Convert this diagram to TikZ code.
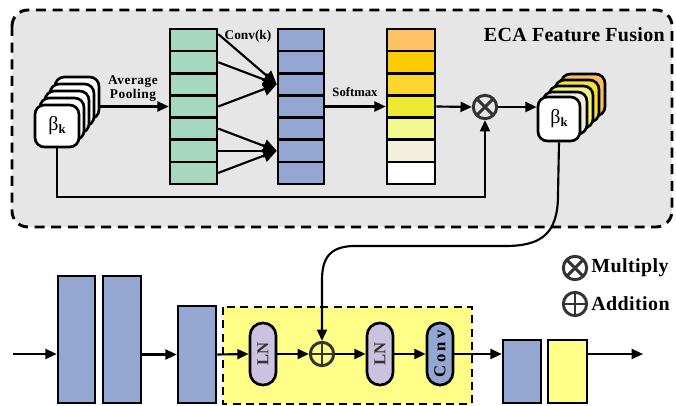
\documentclass[tikz,border=0pt]{standalone}
\usepackage{fontspec}
\setmainfont{Liberation Serif}
\usetikzlibrary{arrows.meta,calc}
\definecolor{panel}{HTML}{E6E6E6}
\definecolor{gcell}{HTML}{A6D7C1}
\definecolor{bcell}{HTML}{94A6D2}
\definecolor{lav}{HTML}{CAC2DE}
\definecolor{ylw}{HTML}{FFFF88}
\definecolor{opc}{HTML}{333333}
\definecolor{oc1}{HTML}{FDC263}
\definecolor{oc2}{HTML}{FBCB05}
\definecolor{oc3}{HTML}{FCD62F}
\definecolor{oc4}{HTML}{EEEA30}
\definecolor{oc5}{HTML}{F2F890}
\definecolor{oc6}{HTML}{F3EFDD}
\definecolor{oc7}{HTML}{FFFFFF}
\definecolor{rc4}{HTML}{F9BE5E}
\definecolor{rc3}{HTML}{F5E232}
\definecolor{rc2}{HTML}{F2F57A}
\definecolor{rc1}{HTML}{F2EDD8}
\begin{document}
\begin{tikzpicture}[x=0.75pt,y=-0.75pt,font=\bfseries,
  arr/.style={line width=1.6pt,-{Triangle[length=8.5pt,width=7.5pt]}},
  bigarr/.style={line width=1.6pt,-{Triangle[length=10pt,width=10pt]}},
  cell/.style={draw,line width=1.9pt,inner sep=0,minimum height=16.6pt},
  bbox/.style={draw,line width=2pt,rounded corners=7pt,fill=white,inner sep=0,minimum width=33pt,minimum height=31.5pt},
  col/.style={draw,line width=1.9pt,inner sep=0},
  pill/.style={draw,line width=2pt,rounded corners=9.5pt,inner sep=0,minimum width=19.5pt,minimum height=46.5pt},
  opcirc/.style={circle,draw=opc,line width=2.2pt,inner sep=0,minimum size=17.5pt},
  mulsym/.style={opcirc,path picture={\draw[opc,line width=2.2pt] (path picture bounding box.north west) -- (path picture bounding box.south east) (path picture bounding box.north east) -- (path picture bounding box.south west);}},
  addsym/.style={opcirc,path picture={\draw[opc,line width=2.2pt] (path picture bounding box.north) -- (path picture bounding box.south) (path picture bounding box.east) -- (path picture bounding box.west);}},
  lbl/.style={font=\bfseries\fontsize{10}{10.5}\selectfont\addfontfeature{LetterSpace=4},align=center,inner sep=0},
]
\useasboundingbox (0,0) rectangle (676,406);
% panel
\draw[fill=panel,line width=2.2pt,dash pattern=on 7.5pt off 5pt,rounded corners=12pt] (12,10) rectangle (672,227);
\node[anchor=east,inner sep=0,font=\bfseries\fontsize{15}{15}\selectfont\addfontfeature{LetterSpace=1.5}] (title) at (665,35) {ECA Feature Fusion};
% columns
\foreach \i in {1,...,7} {
  \node[cell,fill=gcell,minimum width=35.25pt] (g\i) at (193.5,{29+22.14*(\i-0.5)}) {};
  \node[cell,fill=bcell,minimum width=34.5pt] (b\i) at (301,{29+22.14*(\i-0.5)}) {};
  \node[cell,fill=oc\i,minimum width=36pt] (o\i) at (411,{29+22.14*(\i-0.5)}) {};
}
% left stack
\foreach \i in {4,3,2,1} \node[bbox] (bL\i) at ({57+5*\i},{126-7*\i}) {};
\node[bbox] (bL) at (57,126) {{\mdseries\fontsize{15}{15}\selectfont β}{\fontsize{9.5}{9.5}\selectfont\raisebox{-2pt}{k}}};
% right stack
\foreach \i/\c in {4/rc4,3/rc3,2/rc2,1/rc1} \node[bbox,fill=\c] (bR\i) at ({559+6*\i},{119-6*\i}) {};
\node[bbox,minimum width=31.5pt,minimum height=33pt] (bR) at (559,119) {{\mdseries\fontsize{15}{15}\selectfont β}{\fontsize{9.5}{9.5}\selectfont\raisebox{-2pt}{k}}};
% multiply
\node[mulsym] (mul) at (485,107) {};
% arrows top
\draw[arr] (bL4.east |- g4.west) -- (g4.west);
\node[lbl] (avgp) at (133,89) {Average\\Pooling};
\draw[bigarr] ($(g1.east)+(0,-6)$) -- (b3.west);
\draw[bigarr] (g2.east) -- (b3.west);
\draw[bigarr] (g4.east) -- (b3.west);
\draw[bigarr] (g5.east) -- (b6.west);
\draw[bigarr] (g6.east) -- (b6.west);
\draw[bigarr] (g7.east) -- (b6.west);
\node[lbl,font=\bfseries\fontsize{10}{10}\selectfont] (convk) at (248,36) {Conv(k)};
\draw[arr] (b4.east) -- (o4.west);
\node[lbl,font=\bfseries\fontsize{9.5}{10}\selectfont] (soft) at (355,92) {Softmax};
\draw[arr] (o4.east) -- (mul.west);
\draw[arr] (mul.east) -- (mul.east -| bR.west);
\draw[arr] (bL.south) |- ($(mul.south)+(0,77)$) -- (mul.south);
% bottom row
\node[col,fill=bcell,minimum width=27.75pt,minimum height=95.25pt] (box1) at (76.5,339.5) {};
\node[col,fill=bcell,minimum width=28.5pt,minimum height=95.25pt] (box2) at (122,339.5) {};
\node[col,fill=bcell,minimum width=28.5pt,minimum height=72.75pt] (box3) at (197,354.5) {};
\draw[fill=ylw,line width=2pt,dash pattern=on 6pt off 4pt] (223,307) rectangle (472,404);
\node[pill,fill=lav] (ln1) at (263,354) {\rotatebox{90}{\fontsize{12.5}{12}\selectfont\color{opc}LN}};
\node[addsym] (plus) at (322,354) {};
\node[pill,fill=lav] (ln2) at (380,354) {\rotatebox{90}{\fontsize{12.5}{12}\selectfont\color{opc}LN}};
\node[pill,fill=bcell] (conv) at (440,354) {\rotatebox{90}{\fontsize{12.5}{12}\selectfont\addfontfeature{LetterSpace=18}Conv}};
\node[col,fill=bcell,minimum width=28.5pt,minimum height=47.25pt] (box4) at (522,371.5) {};
\node[col,fill=ylw,minimum width=29.25pt,minimum height=47.25pt] (box5) at (567.5,371.5) {};
\coordinate (in) at (13,354);
\coordinate (out) at (643,354);
\draw[arr] (in) -- (in -| box1.west);
\draw[arr] (box2.east |- box3.west) -- (box3.west);
\draw[arr] (box3.east) -- (ln1.west);
\draw[arr] (ln1.east) -- (plus.west);
\draw[arr] (plus.east) -- (ln2.west);
\draw[arr] (ln2.east) -- (conv.west);
\draw[arr] (conv.east) -- (conv.east -| box4.west);
\draw[arr] (box5.east |- out) -- (out);
% feedback curve
\draw[arr] (bR.south) -- (558,195) .. controls (558,235) and (540,246) .. (505,246) -- (355,246) .. controls (330,246) and (322,258) .. (322,280) -- (plus.north);
% legend
\node[mulsym] (lmul) at (575,268) {};
\node[anchor=west,inner sep=0,font=\bfseries\fontsize{15}{15}\selectfont\addfontfeature{LetterSpace=2}] (tmul) at (591,268) {Multiply};
\node[addsym] (ladd) at (575,304) {};
\node[anchor=west,inner sep=0,font=\bfseries\fontsize{15}{15}\selectfont\addfontfeature{LetterSpace=2}] (tadd) at (591,304) {Addition};
\end{tikzpicture}
\end{document}
